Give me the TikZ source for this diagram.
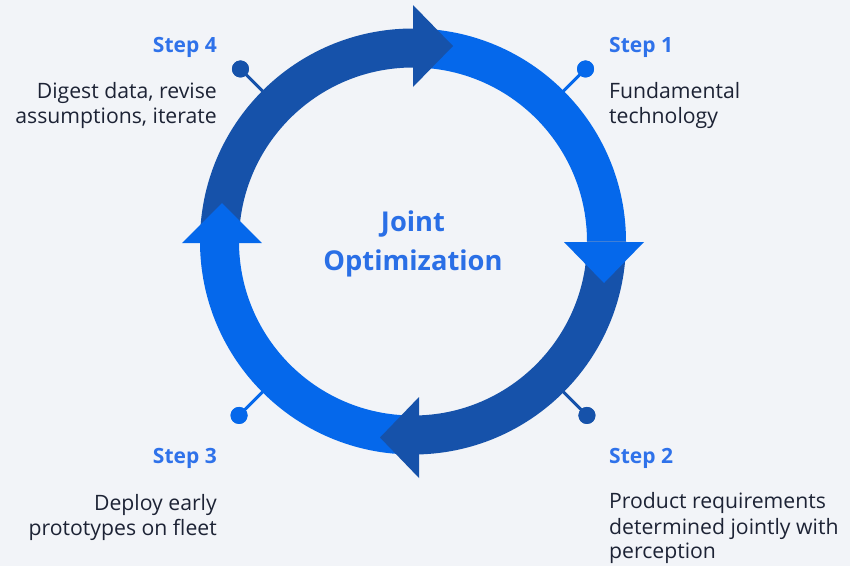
\documentclass[tikz,border=0pt]{standalone}
\usepackage{fontspec}
\setmainfont{Open Sans}
\definecolor{pagebg}{HTML}{F2F4F8}
\definecolor{ringlight}{HTML}{0568EB}
\definecolor{ringdark}{HTML}{1652AA}
\definecolor{steptxt}{HTML}{2F72EA}
\definecolor{bodytxt}{HTML}{1D2335}
\definecolor{centertxt}{HTML}{2A6FE6}

\begin{document}
\begin{tikzpicture}[x=1pt,y=1pt,
  steplabel/.style={inner sep=0pt, text=steptxt, font=\fontsize{21}{25}\selectfont\bfseries},
  bodyline/.style={inner sep=0pt, text=bodytxt, font=\fontsize{21.2}{25}\selectfont},
  centerline/.style={inner sep=0pt, text=centertxt, font=\fontsize{27.3}{32}\selectfont\bfseries, anchor=base},
  pin/.style={line width=3pt},
  pindot/.style={circle, inner sep=0pt, minimum size=17pt}
]
% canvas
\fill[pagebg] (-413,241.5) rectangle (437,-324.5);
\useasboundingbox (-413,241.5) rectangle (437,-324.5);

% pins from the ring to each step
\coordinate (r1) at (45:200);
\coordinate (r2) at (-45:200);
\coordinate (r3) at (-135:200);
\coordinate (r4) at (135:200);
\node[pindot, fill=ringlight] (d1) at (45:244) {};
\node[pindot, fill=ringdark]  (d2) at (-45:246) {};
\node[pindot, fill=ringlight] (d3) at (-135:246) {};
\node[pindot, fill=ringdark]  (d4) at (135:244) {};
\draw[pin, ringlight] (d1.center) -- (r1);
\draw[pin, ringdark]  (d2.center) -- (r2);
\draw[pin, ringlight] (d3.center) -- (r3);
\draw[pin, ringdark]  (d4.center) -- (r4);

% ring quarters
\fill[ringlight] (0:174) arc[start angle=0, end angle=90, radius=174]
  -- (90:213) arc[start angle=90, end angle=0, radius=213] -- cycle;
\fill[ringdark] (0:174) arc[start angle=0, end angle=-90, radius=174]
  -- (-90:213) arc[start angle=-90, end angle=0, radius=213] -- cycle;
\fill[ringlight] (-90:174) arc[start angle=-90, end angle=-180, radius=174]
  -- (-180:213) arc[start angle=-180, end angle=-90, radius=213] -- cycle;
\fill[ringdark] (180:174) arc[start angle=180, end angle=90, radius=174]
  -- (90:213) arc[start angle=90, end angle=180, radius=213] -- cycle;

% arrowheads, clockwise
\fill[ringdark]  (0,236.5) -- (40,195.5) -- (0,154.5) -- cycle;
\fill[ringlight] (151,-0.5) -- (191,-41.5) -- (231,-0.5) -- cycle;
\fill[ringdark]  (6,-155.5) -- (-33,-196) -- (6,-236.5) -- cycle;
\fill[ringlight] (-231,-1.5) -- (-191,38.5) -- (-151,-1.5) -- cycle;

% dots on top of the pins
\fill[ringlight] (d1) circle[radius=8.5];
\fill[ringdark]  (d2) circle[radius=8.5];
\fill[ringlight] (d3) circle[radius=8.5];
\fill[ringdark]  (d4) circle[radius=8.5];

% centre title
\node[centerline] (title1) at (0,10.5) {Joint};
\node[centerline] (title2) at (0,-28.5) {Optimization};

% step 1
\node[steplabel, anchor=base west] (s1) at (196,189.5) {Step 1};
\node[bodyline, anchor=base west] (s1a) at (196,143.5) {Fundamental};
\node[bodyline, anchor=base west] (s1b) at (196,118) {technology};

% step 2
\node[steplabel, anchor=base west] (s2) at (196,-221.5) {Step 2};
\node[bodyline, anchor=base west] (s2a) at (196,-267) {Product requirements};
\node[bodyline, anchor=base west] (s2b) at (196,-292.5) {determined jointly with};
\node[bodyline, anchor=base west] (s2c) at (196,-317) {perception};

% step 3
\node[steplabel, anchor=base east] (s3) at (-196,-221.5) {Step 3};
\node[bodyline, anchor=base east] (s3a) at (-196,-268.5) {Deploy early};
\node[bodyline, anchor=base east] (s3b) at (-196,-293.5) {prototypes on fleet};

% step 4
\node[steplabel, anchor=base east] (s4) at (-196,189.5) {Step 4};
\node[bodyline, anchor=base east] (s4a) at (-196,143.5) {Digest data, revise};
\node[bodyline, anchor=base east] (s4b) at (-196,118) {assumptions, iterate};
\end{tikzpicture}
\end{document}
